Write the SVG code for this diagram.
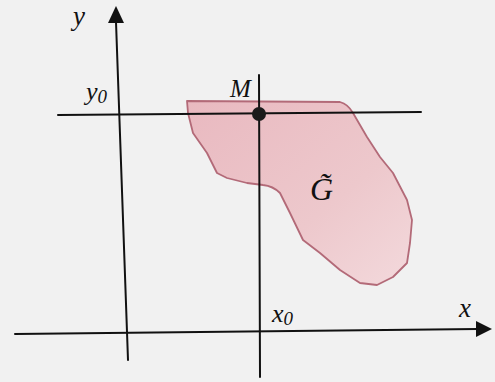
<svg xmlns="http://www.w3.org/2000/svg" width="495" height="382" viewBox="0 0 495 382">
<style>
.ax{stroke:#111;stroke-width:2;fill:none;stroke-linecap:round}
.lbl{font-family:"Liberation Serif","Times New Roman",serif;font-style:italic;fill:#111}
</style>
<defs>
<marker id="arr" viewBox="0 0 10 10" refX="9" refY="5" markerWidth="7" markerHeight="7" markerUnits="userSpaceOnUse" orient="auto"><path d="M0,0 L10,5 L0,10 z" fill="#111"/></marker>
<linearGradient id="gf" x1="0" y1="0" x2="1" y2="1">
<stop offset="0" stop-color="#e9b9c0"/>
<stop offset="0.6" stop-color="#edc8cc"/>
<stop offset="1" stop-color="#f3d9dc"/>
</linearGradient>
</defs>
<rect width="495" height="382" fill="#f1f1f1"/>
<g id="region">
<path d="M187,101 L340,102 Q348,104 353,113 L367,137 L380,157 L393,173 L407,200 L412,220 L410,243 L407,263 L393,277 L377,285 L360,283 L340,270 L320,253 L303,240 L290,213 L280,193 Q273,186 263,185 L247,183 L227,178 L217,173 L207,153 L193,133 L188,113 Z" fill="url(#gf)" stroke="#b36a78" stroke-width="1.8" stroke-linejoin="round"/>
</g>
<g id="connectors">
<path class="ax" d="M128,360 L116,22"/>
<path d="M116,6 L108,23 L124,23 Z" fill="#111"/>
<path class="ax" d="M15,334 L478,329"/>
<path d="M492,329 L476,321 L476,337 Z" fill="#111"/>
<path class="ax" d="M58,115 L421,112"/>
<path class="ax" d="M259,75 L260,377"/>
</g>
<g id="M"><circle cx="259" cy="114" r="7" fill="#1a1a1a"/><text class="lbl" x="230" y="97" font-size="25">M</text></g>
<g id="y-label"><text class="lbl" x="73" y="25" font-size="27">y</text></g>
<g id="y0-label"><text class="lbl" x="86" y="100" font-size="26">y<tspan font-size="19" dy="3">0</tspan></text></g>
<g id="x0-label"><text class="lbl" x="272" y="322" font-size="26">x<tspan font-size="19" dy="3">0</tspan></text></g>
<g id="x-label"><text class="lbl" x="459" y="317" font-size="27">x</text></g>
<g id="G-label"><text class="lbl" x="310" y="200" font-size="32">G̃</text></g>
</svg>
